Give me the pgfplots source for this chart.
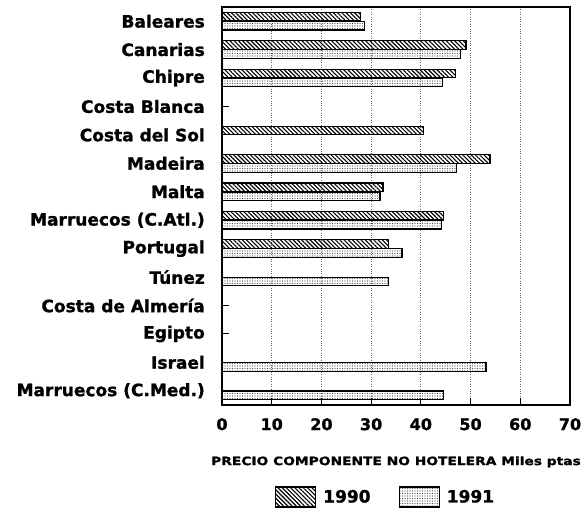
\documentclass[border=0pt]{standalone}
\usepackage{fontspec}
\setmainfont{DejaVu Sans}[BoldFeatures={FakeBold=1.2}]
\newfontfamily\xlabfont{DejaVu Sans}[FakeStretch=1.2, BoldFeatures={FakeBold=1.2}]
\usepackage{pgfplots}
\pgfplotsset{compat=1.18}
\usetikzlibrary{patterns.meta}

\begin{document}
\begin{tikzpicture}
\begin{axis}[
    scale only axis,
    width=348pt, height=398pt,
    xbar,
    bar width=8.5pt,
    y dir=reverse,
    xmin=0, xmax=70,
    ymin=-0.5, ymax=13.5,
    xtick={0,10,...,70},
    ytick={0,...,13},
    yticklabels={Baleares, Canarias, Chipre, Costa Blanca, Costa del Sol, Madeira, Malta,
        Marruecos (C.Atl.), Portugal, Túnez, Costa de Almería, Egipto, Israel, Marruecos (C.Med.)},
    tick pos=left,
    tick align=inside,
    major tick length=7pt,
    tick style={black, line width=1pt},
    axis line style={line width=1.6pt},
    xmajorgrids,
    grid style={black!60, dotted, line width=0.8pt},
    /pgf/number format/assume math mode=true,
    ticklabel style={font=\bfseries\fontsize{16}{18}\selectfont},
    yticklabel style={font=\bfseries\fontsize{17}{19}\selectfont, inner sep=0pt, xshift=-17pt},
    xticklabel style={inner sep=0pt, yshift=-13pt},
    xlabel={PRECIO COMPONENTE NO HOTELERA Miles ptas},
    xlabel style={font=\xlabfont\bfseries\fontsize{11.5}{13}\selectfont,
        at={(axis description cs:0.5,-0.143)}, anchor=center},
    legend columns=2,
    legend style={draw=none, at={(axis description cs:0.47,-0.231)}, anchor=center,
        font=\bfseries\fontsize{17}{19}\selectfont,
        /tikz/every odd column/.append style={column sep=5pt},
        /tikz/every even column/.append style={column sep=26pt}},
    legend image code/.code={\draw[#1] (0pt,-10pt) rectangle (40pt,10pt);},
]
% 1990
\addplot[draw=black, line width=1.2pt, bar shift=4.5pt,
    pattern={Lines[angle=-45, distance=3pt, line width=1.1pt]}] coordinates {
    (27.8,0) (49.1,1) (46.9,2) (40.6,4) (53.9,5) (32.4,6) (44.5,7) (33.5,8)
};
% 1991
\addplot[draw=black, line width=1.2pt, bar shift=-4.5pt,
    pattern={Dots[distance=2.5pt, radius=0.6pt]}, pattern color=black!70] coordinates {
    (28.7,0) (47.9,1) (44.3,2) (47.1,5) (31.8,6) (44.1,7) (36.2,8) (33.5,9) (53.1,12) (44.5,13)
};
\legend{1990, 1991}
\end{axis}
\pgfresetboundingbox
\useasboundingbox (-222pt,-106pt) rectangle (362pt,405pt);
\end{tikzpicture}
\end{document}
